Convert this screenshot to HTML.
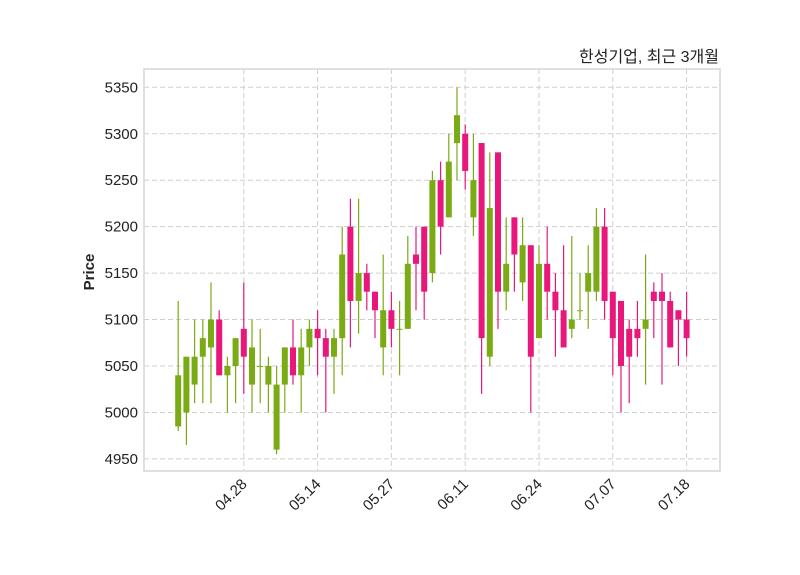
<!DOCTYPE html>
<html><head><meta charset="utf-8"><style>
body{margin:0;background:#fff;}
svg{display:block;font-family:"Liberation Sans","Noto Sans CJK KR",sans-serif;}
</style></head><body>
<svg id="chart" width="800" height="575" viewBox="0 0 800 575" xmlns="http://www.w3.org/2000/svg">
<rect x="0" y="0" width="800" height="575" fill="#fff"/>
<g id="grid"></g>
<g id="candles"></g>
<rect x="144" y="69" width="576" height="402" fill="none" stroke="#d6d6d6" stroke-width="1.5"/>
<g id="yticks"></g>
<g id="xticks"></g>
<text x="0" y="0" transform="translate(94,272) rotate(-90)" text-anchor="middle" font-size="15" font-weight="bold" fill="#222">Price</text>
<text x="719" y="62" text-anchor="end" font-size="16" fill="#222">한성기업, 최근 3개월</text>
</svg>
<script>
const opens  = [4985,5000,5030,5060,5070,5100,5040,5050,5090,5030,5050,5030,4960,5030,5070,5040,5070,5090,5080,5060,5080,5200,5120,5150,5130,5070,5110,5090,5090,5170,5200,5150,5250,5210,5290,5300,5210,5290,5060,5280,5130,5210,5140,5180,5080,5160,5130,5110,5090,5110,5130,5130,5200,5130,5120,5090,5090,5090,5130,5130,5120,5110,5100];
const highs  = [5120,5060,5100,5100,5140,5110,5060,5080,5140,5100,5090,5060,5050,5070,5100,5090,5100,5110,5090,5090,5200,5230,5230,5160,5130,5170,5130,5120,5190,5200,5200,5260,5270,5300,5350,5310,5300,5290,5280,5280,5210,5210,5210,5180,5180,5200,5150,5180,5190,5150,5180,5220,5220,5130,5120,5100,5120,5170,5140,5150,5130,5110,5130];
const lows   = [4980,4965,5010,5010,5010,5040,5000,5010,5020,5000,5010,5000,4955,5000,5030,5000,5050,5040,5000,5020,5040,5070,5085,5110,5080,5040,5070,5040,5090,5110,5100,5140,5170,5210,5250,5240,5190,5020,5050,5090,5110,5130,5120,5000,5080,5100,5060,5070,5080,5100,5090,5120,5100,5040,5000,5010,5060,5030,5080,5030,5070,5050,5060];
const closes = [5040,5060,5060,5080,5100,5040,5050,5080,5060,5070,5050,5050,5030,5070,5040,5070,5090,5080,5060,5080,5170,5120,5150,5130,5110,5110,5090,5090,5160,5160,5130,5250,5200,5270,5320,5260,5250,5080,5220,5130,5160,5170,5180,5060,5160,5130,5110,5070,5100,5110,5150,5200,5120,5080,5050,5060,5080,5100,5120,5120,5070,5100,5080];
const yTicks = [4950,5000,5050,5100,5150,5200,5250,5300,5350];
const xTickIdx = [8,17,26,35,44,53,62];
const xTickLabels = ["04.28","05.14","05.27","06.11","06.24","07.07","07.18"];

const NS="http://www.w3.org/2000/svg";
function xs(i){return 178.2+8.2*i;}
function ys(p){return 87.3+(5350-p)*0.929;}
function mk(tag,attrs,parent){const e=document.createElementNS(NS,tag);for(const k in attrs)e.setAttribute(k,attrs[k]);parent.appendChild(e);return e;}
const grid=document.getElementById('grid'),cg=document.getElementById('candles'),yg=document.getElementById('yticks'),xg=document.getElementById('xticks');
yTicks.forEach(v=>{
  const y=ys(v);
  const l=mk('line',{x1:144,x2:720,y1:y,y2:y,stroke:'#cfcfcf','stroke-dasharray':'5,3','stroke-width':1},grid);
  
  
  const t=mk('text',{x:138,y:y+5,'text-anchor':'end','font-size':15,fill:'#222'},yg);
  
  
  t.textContent=v;
});
xTickIdx.forEach((idx,k)=>{
  const x=xs(idx);
  const l=mk('line',{x1:x,x2:x,y1:69,y2:471,stroke:'#cfcfcf','stroke-dasharray':'5,3','stroke-width':1},grid);
  
  
  const t=mk('text',{x:0,y:0,transform:`translate(${x+4},${485}) rotate(-45)`,'text-anchor':'end','font-size':15,fill:'#222'},xg);
  
  
  t.textContent=xTickLabels[k];
});
opens.forEach((o,i)=>{
  const c=closes[i],up=c>=o,col=up?'#7aab14':'#e8177b';
  const x=xs(i);
  const w=mk('line',{x1:x,x2:x,y1:ys(highs[i]),y2:ys(lows[i]),stroke:col,'stroke-width':1.2},cg);
  
  
  const top=ys(Math.max(o,c)),bot=ys(Math.min(o,c));
  const b=mk('rect',{x:x-3,y:top,width:6,height:Math.max(1,bot-top),fill:col},cg);
  
  
});
</script>
</body></html>
